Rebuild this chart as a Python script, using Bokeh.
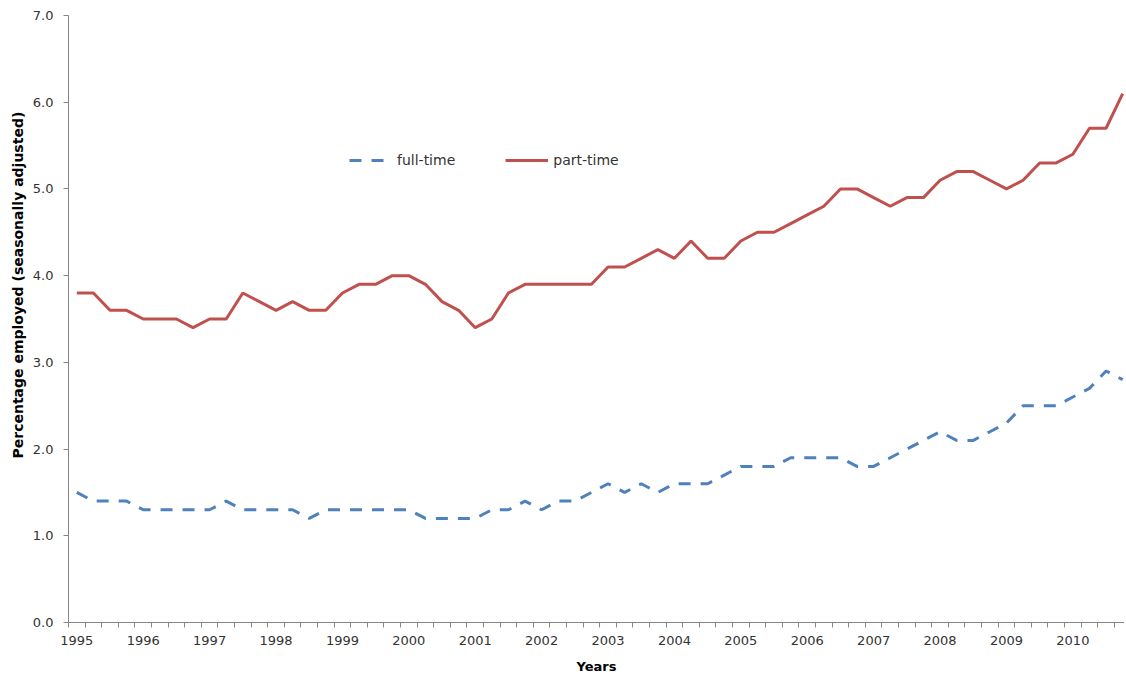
from bokeh.plotting import figure
from bokeh.models import Range1d, FixedTicker, Legend, LegendItem, NumeralTickFormatter, Title
from bokeh.embed import file_html
from bokeh.resources import INLINE

years = [str(y) for y in range(1995, 2011)]
quarters = list(range(64))

full_time = [
    1.5, 1.4, 1.4, 1.4,
    1.3, 1.3, 1.3, 1.3,
    1.3, 1.4, 1.3, 1.3,
    1.3, 1.3, 1.2, 1.3,
    1.3, 1.3, 1.3, 1.3,
    1.3, 1.2, 1.2, 1.2,
    1.2, 1.3, 1.3, 1.4,
    1.3, 1.4, 1.4, 1.5,
    1.6, 1.5, 1.6, 1.5,
    1.6, 1.6, 1.6, 1.7,
    1.8, 1.8, 1.8, 1.9,
    1.9, 1.9, 1.9, 1.8,
    1.8, 1.9, 2.0, 2.1,
    2.2, 2.1, 2.1, 2.2,
    2.3, 2.5, 2.5, 2.5,
    2.6, 2.7, 2.9, 2.8,
]

part_time = [
    3.8, 3.8, 3.6, 3.6,
    3.5, 3.5, 3.5, 3.4,
    3.5, 3.5, 3.8, 3.7,
    3.6, 3.7, 3.6, 3.6,
    3.8, 3.9, 3.9, 4.0,
    4.0, 3.9, 3.7, 3.6,
    3.4, 3.5, 3.8, 3.9,
    3.9, 3.9, 3.9, 3.9,
    4.1, 4.1, 4.2, 4.3,
    4.2, 4.4, 4.2, 4.2,
    4.4, 4.5, 4.5, 4.6,
    4.7, 4.8, 5.0, 5.0,
    4.9, 4.8, 4.9, 4.9,
    5.1, 5.2, 5.2, 5.1,
    5.0, 5.1, 5.3, 5.3,
    5.4, 5.7, 5.7, 6.1,
]

y_ticks = [0, 1, 2, 3, 4, 5, 6, 7]

FONT = "DejaVu Sans"
TEXT = "#333333"
AXIS = "#868686"
BLUE = "#4F81BD"
RED = "#C0504D"

p = figure(frame_width=1056, frame_height=607,
           x_range=Range1d(-0.5, 63.11), y_range=Range1d(0, 7),
           output_backend="svg", toolbar_location=None,
           min_border_left=68, min_border_top=15, min_border_right=0,
           min_border_bottom=54)
p.outline_line_color = None
p.xgrid.visible = False
p.ygrid.visible = False

r_full = p.line(quarters, full_time, line_color=BLUE, line_width=3, line_dash="12 10")
r_part = p.line(quarters, part_time, line_color=RED, line_width=3)

xa = p.xaxis[0]
xa.ticker = FixedTicker(ticks=[i * 4 for i in range(len(years))],
                        minor_ticks=[k - 0.5 for k in range(65)])
xa.major_label_overrides = {i * 4: years[i] for i in range(len(years))}
xa.major_tick_line_color = None
xa.major_tick_in = 0
xa.major_tick_out = 5
xa.minor_tick_in = 0
xa.minor_tick_out = 5
xa.minor_tick_line_color = AXIS
xa.axis_line_color = AXIS
xa.major_label_text_font = FONT
xa.major_label_text_font_size = "13px"
xa.major_label_text_color = TEXT
xa.major_label_standoff = 8
xa.axis_label = "Years"
xa.axis_label_text_font = FONT
xa.axis_label_text_font_style = "bold"
xa.axis_label_text_font_size = "13px"
xa.axis_label_text_color = "black"
xa.axis_label_standoff = 11

ya = p.yaxis[0]
ya.ticker = FixedTicker(ticks=y_ticks, minor_ticks=[])
ya.formatter = NumeralTickFormatter(format="0.0")
ya.major_tick_in = 0
ya.major_tick_out = 5
ya.major_tick_line_color = AXIS
ya.axis_line_color = AXIS
ya.major_label_text_font = FONT
ya.major_label_text_font_size = "13px"
ya.major_label_text_color = TEXT
ya.major_label_standoff = 10

ytitle = Title(text="Percentage employed (seasonally adjusted)", align="left",
               offset=164, standoff=7, text_font=FONT, text_font_style="bold",
               text_font_size="14px", text_color="black")
p.add_layout(ytitle, "left")

legend = Legend(items=[LegendItem(label="full-time", renderers=[r_full]),
                       LegendItem(label="part-time", renderers=[r_part])],
                orientation="horizontal", location=(281, 452),
                glyph_width=43, glyph_height=20, label_standoff=5, spacing=50,
                padding=5, margin=0, border_line_color=None,
                background_fill_alpha=0,
                label_text_font=FONT, label_text_font_size="14px",
                label_text_color=TEXT)
p.add_layout(legend)

open("out.html", "w").write(file_html(p, INLINE))
